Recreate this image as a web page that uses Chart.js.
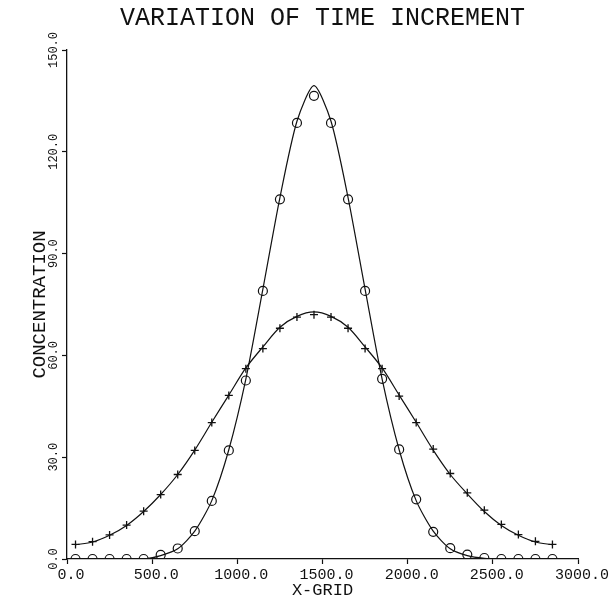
<!DOCTYPE html>
<html>
<head>
    <title>Variation of Time Increment</title>
    <script src="https://cdn.jsdelivr.net/npm/chart.js"></script>
    <style>
        body { margin: 0; background: #fff; }
        #wrap { width: 610px; height: 602px; }
    </style>
</head>
<body>

<div id="wrap"><canvas id="conc_chart" width="610" height="602"></canvas></div>

<script>
// x positions of the grid points
const xGrid = [50, 150, 250, 350, 450, 550, 650, 750, 850, 950,
               1050, 1150, 1250, 1350, 1450, 1550, 1650, 1750, 1850, 1950,
               2050, 2150, 2250, 2350, 2450, 2550, 2650, 2750, 2850];

// narrow peak (circles) - curve and computed points
const circleLine  = [0, 0, 0, 0, 0, 1, 3, 8.2, 17.2, 32.2,
                     53, 79.5, 106.5, 129, 139.5, 129, 106.5, 79.5, 53, 32.2,
                     17.2, 8.2, 3, 1, 0.2, 0, 0, 0, 0];
const circleMarks = [0, 0, 0, 0, 0, 1.2, 3.1, 8.2, 17.1, 32,
                     52.6, 79, 106, 128.5, 136.5, 128.5, 106, 79, 53.1, 32.3,
                     17.6, 8, 3.2, 1.3, 0.3, 0, 0, 0, 0];

// wide peak (crosses) - curve and computed points
const plusLine  = [4.2, 5, 7, 9.9, 14, 19, 24.9, 32.1, 40.3, 48.3,
                   56.3, 62.5, 68.3, 71.5, 72.8, 71.5, 68.3, 62.5, 56.3, 48.3,
                   40.3, 32.1, 24.9, 19.2, 14, 9.9, 7, 5, 4.2];
const plusMarks = [4.3, 5.1, 7.1, 10, 14.1, 19, 24.9, 32, 40.2, 48.2,
                   56.1, 62, 68, 71.3, 72, 71.3, 68, 62, 56.1, 48,
                   40.2, 32.4, 25.2, 19.5, 14.4, 10.2, 7.2, 5.2, 4.3];

const xTicks = [0, 500, 1000, 1500, 2000, 2500, 3000];
const yTicks = [0, 30, 60, 90, 120, 150];

function toPoints(ys) {
    return xGrid.map((x, i) => ({x: x, y: ys[i]}));
}

const ink = '#111';
const mono = 'Liberation Mono';

document.addEventListener("DOMContentLoaded", function() {
    const ctx = document.getElementById('conc_chart').getContext('2d');

    new Chart(ctx, {
        type: 'scatter',
        data: {
            datasets: [{
                data: toPoints(circleLine),
                showLine: true,
                borderColor: ink,
                borderWidth: 1.2,
                pointRadius: 0,
                tension: 0.25
            }, {
                data: toPoints(plusLine),
                showLine: true,
                borderColor: ink,
                borderWidth: 1.2,
                pointRadius: 0,
                tension: 0.3
            }, {
                data: toPoints(circleMarks),
                showLine: false,
                pointStyle: 'circle',
                pointRadius: 4.5,
                borderColor: ink,
                borderWidth: 1.2,
                backgroundColor: 'rgba(0,0,0,0)'
            }, {
                data: toPoints(plusMarks),
                showLine: false,
                pointStyle: 'cross',
                pointRadius: 4,
                borderColor: ink,
                borderWidth: 1.3
            }]
        },
        options: {
            responsive: false,
            animation: false,
            layout: {
                padding: {left: 29, right: 32, top: 0, bottom: 0}
            },
            scales: {
                x: {
                    type: 'linear',
                    min: 0,
                    max: 3000,
                    afterBuildTicks: function(scale) {
                        scale.ticks = xTicks.map(v => ({value: v}));
                    },
                    afterFit: function(scale) { scale.height = 43; },
                    grid: {
                        drawOnChartArea: false,
                        color: ink,
                        tickLength: 5,
                        tickWidth: 1.2
                    },
                    border: {color: ink, width: 1.3},
                    ticks: {
                        color: ink,
                        padding: 2,
                        maxRotation: 0,
                        labelOffset: 4,
                        font: {family: mono, size: 15},
                        callback: v => v.toFixed(1)
                    },
                    title: {
                        display: true,
                        text: 'X-GRID',
                        color: ink,
                        padding: {top: 0, bottom: 1},
                        font: {family: mono, size: 17}
                    }
                },
                y: {
                    min: 0,
                    max: 150,
                    afterBuildTicks: function(scale) {
                        scale.ticks = yTicks.map(v => ({value: v}));
                    },
                    afterFit: function(scale) { scale.width = 38; },
                    grid: {
                        drawOnChartArea: false,
                        color: ink,
                        tickLength: 5,
                        tickWidth: 1.2
                    },
                    border: {color: ink, width: 1.3},
                    ticks: {
                        color: ink,
                        minRotation: 90,
                        maxRotation: 90,
                        crossAlign: 'center',
                        padding: -10,
                        font: {family: mono, size: 12},
                        callback: v => v.toFixed(1)
                    },
                    title: {
                        display: true,
                        text: 'CONCENTRATION',
                        color: ink,
                        padding: 0,
                        font: {family: mono, size: 19}
                    }
                }
            },
            plugins: {
                legend: {display: false},
                tooltip: {enabled: false},
                title: {
                    display: true,
                    fullSize: false,
                    text: 'VARIATION OF TIME INCREMENT',
                    color: ink,
                    font: {family: mono, size: 25, weight: 'normal'},
                    padding: {top: 3, bottom: 17}
                }
            }
        }
    });
});
</script>

</body>
</html>
